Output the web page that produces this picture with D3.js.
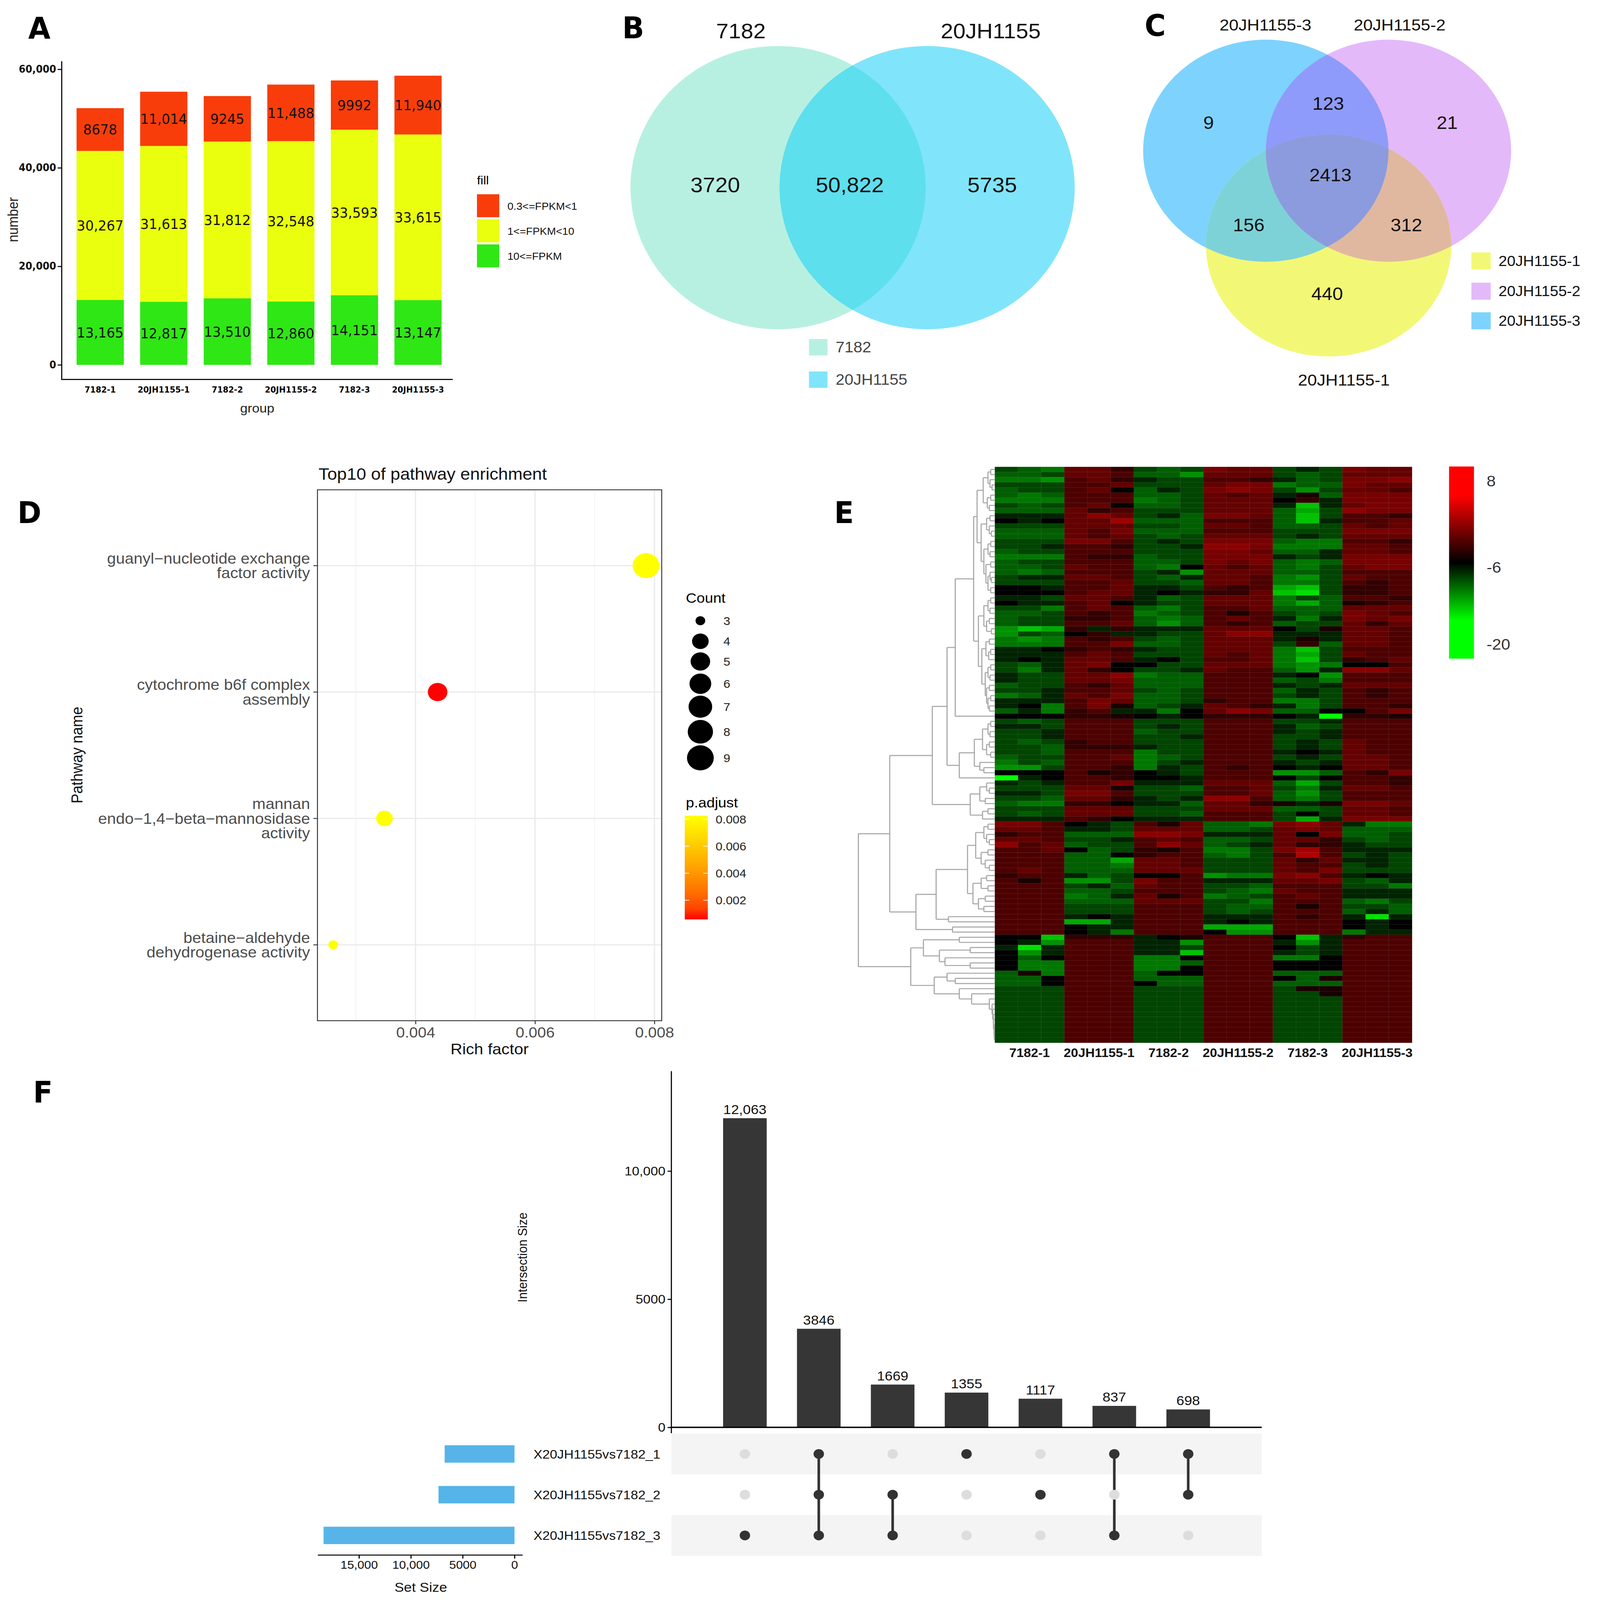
<!DOCTYPE html>
<html><head><meta charset="utf-8">
<script src="https://cdn.jsdelivr.net/npm/d3@7"></script>
<style>html,body{margin:0;padding:0;background:#fff;overflow:hidden}#fig{display:block;width:100vw;height:100vh}</style>
</head><body>
<svg id="fig" viewBox="0 0 4304 4596" preserveAspectRatio="none" xmlns="http://www.w3.org/2000/svg"></svg>
<script>
// ====================== DATA ======================
// Panel A
const groupsA = ["7182-1","20JH1155-1","7182-2","20JH1155-2","7182-3","20JH1155-3"];
const fpkmHigh = [13165,12817,13510,12860,14151,13147];   // 10<=FPKM
const fpkmMid  = [30267,31613,31812,32548,33593,33615];   // 1<=FPKM<10
const fpkmLow  = [8678,11014,9245,11488,9992,11940];      // 0.3<=FPKM<1
const fpkmClasses = ["0.3<=FPKM<1","1<=FPKM<10","10<=FPKM"];
const yTicksA = [0,20000,40000,60000];

// Panel B
const vennBSets = ["7182","20JH1155"];
const vennBCounts = [3720, 50822, 5735];        // 7182 only, both, 20JH1155 only

// Panel C
const vennCSets = ["20JH1155-1","20JH1155-2","20JH1155-3"];
const vennCRegions = ["3","2","1","2&3","1&3","1&2","1&2&3"];
const vennCCounts = [9, 21, 440, 123, 156, 312, 2413];

// Panel D
const pathwayLines = [
  ["guanyl\u2212nucleotide exchange","factor activity"],
  ["cytochrome b6f complex","assembly"],
  ["mannan","endo\u22121,4\u2212beta\u2212mannosidase","activity"],
  ["betaine\u2212aldehyde","dehydrogenase activity"]
];
const richFactor = [0.00786, 0.00437, 0.00348, 0.00262];
const geneCount  = [9, 5, 4, 3];
const pAdjust    = [0.00826, 0.00058, 0.00826, 0.00826];
const richTicks  = [0.004, 0.006, 0.008];
const richMinorTicks = [0.003, 0.005, 0.007];
const countLegend = [3,4,5,6,7,8,9];
const pLegendTicks = [0.002,0.004,0.006,0.008];

// Panel E (heatmap; one char per cell, decoded through heatCodeValues)
const heatSamples = ["7182-1","20JH1155-1","7182-2","20JH1155-2","7182-3","20JH1155-3"];
const heatCodeValues = {"9":-20,"8":-18.4,"7":-16.7,"6":-15.3,"5":-14,"4":-12.6,"3":-11.2,"2":-9.8,"1":-7.9,"0":-6,
  "a":-4.6,"b":-3.25,"c":-1.8,"d":-0.5,"e":0.6,"f":1.7,"g":2.8,"h":3.9};
const heatRows = [
"234ddb232edd212edd","332ddc335ddd232ddd","445cdb122ccb132eef","222ccd222dee433edd","322cd0312efe252ddc",
"343ccc332dcd1a3eee","444ccc432ddd0b1eee","232cd0332ddd171dee","333dbc222ddd362fee","111dfd213eed372ccb",
"010ddg333ccc371ccd","222ddd223ddc332dcd","333dce333ccc222eee","333dcd232ddd212ddd","222eec212eee344ccb",
"221ccb221ffe444ddc","322ccc222eed331ddc","444cbb322eee121eee","322ccc332ede343eee","332dcc340dcd342dee",
"343ccc215ddd332ccc","211ddc231ddc452dcc","222ccd223ddc442cbc","001ccd112cbc672bbc","000cdd101bbd782bbc",
"112ddc132ddd423ccb","011cd0122ddd463abc","224cdc342ccd333ddd","332cbc432cac232edc","322bbc343cdc141ede",
"322ccd353cbc322dbd","576b1b111ddd02addc","5230b1122dff111ddc","454cbc232ddd1a1ddc","444cce332ddd2b3ddc",
"110bcb122ddd472ccc","111cdc222dcd462dcc","101ddc102ccd472bcd","231de0022ddd45400c","241db0221dcc351ffd",
"122ddf433ccc105ccc","122dde333ccc324ccc","322cbd333ccc121ddd","221ccd232ccc312cbc","431dce332ccc212cbc",
"111ced332bcc442ccc","104cea321dcb142ccb","314bc1140dfe3300ce","000bba010bbb019bba","232ccc222ccc221ccc",
"112ccc212ccc132ccc","221ccc322ccc121ccc","221ccc221ccc221ccc","232bcc222ccc212dcc","223bbb122ccc212dcc",
"223ccc422ccc101dcc","322ccd432ccc212ddc","423ccc421ccc121ddc","552ccb412cbc010ddc","000cab012ccc553cbe",
"910ccb001ccc020ccb","121cce111ddd362ccb","222dda223ccd241ddc","112eec222ccd352ccc","223ddb121ffc342ccc",
"344bb0113ddba1aeed","222ddd222ddd332ddc","232ddd223ccc202ddc","111cb0111ccc261eee","eec012cad334efd144",
"ddc112ddd332ded333","bcc333ffe111d0e332","ddc221cdc332ddb232","fcd322cfd321dbb122","ccd032bac442egc111",
"ccc330bcc342chc212","ccc336ddc222dbd112","ccc334ddc222dcc212","cdc333ddd222dce222","bcc13200c544efc101",
"cac552ecc111dde231","ccc213dcc223ccc224","ccc332ccc234dcc111","ccc431dac432cdc111","ccc333ddd224ccc342",
"ccc222ccc233cac223","ccc222ccc232ccc313","ccc101ccc111cbc181","ccc661ccc101ccc010","ccc011ccc666ccc010",
"ccc014ccc055ccc411","007bbb10accc071bcc","015ccc115ccc151ccc","181ccc112ccc021ccc","051ccc117ccc121ccc",
"030ccc440ccc440ccc","044ccc443ccc000ccc","044ccc440ccc000ccc","3a4ccc300ccc333ccc","330ccc333ccc03accc",
"330ccc033ccc333ccc","222ccc222ccc2aaccc","222ccc222ccc22accc","222ccc222ccc222ccc","222ccc222ccc222ccc",
"222ccc222ccc222ccc","222ccc222ccc222ccc","222ccc222ccc222ccc","222ccc222ccc222ccc","222ccc222ccc222ccc",
"222ccc222ccc222ccc","222ccc222ccc222ccc"
];
const heatLegendTicks = [8,-6,-20];
// row dendrogram: [height, child, child], leaves = row index
const dendroTree =
[1.0,
  [0.77,
    [0.458,
      [0.35,
        [0.29,
          [0.155,
            [0.13,
              [0.085,[0.05,[0.03,0,1],[0.035,2,[0.02,3,4]]],[0.055,[0.03,5,6],[0.04,7,8]]],
              [0.10,[0.06,[0.035,9,10],[0.04,11,[0.025,12,13]]],[0.08,[0.05,[0.03,14,15],[0.035,16,17]],[0.065,[0.03,18,19],[0.05,[0.035,20,[0.025,21,22]],[0.03,23,24]]]]]],
            [0.12,
              [0.08,[0.05,[0.03,25,26],[0.035,27,28]],[0.06,[0.04,29,30],[0.025,31,32]]],
              [0.095,[0.065,[0.04,33,34],[0.045,[0.03,35,36],37]],[0.07,[0.05,[0.03,38,39],[0.035,40,41]],[0.06,[0.04,42,43],[0.05,[0.03,44,45],[0.04,46,47]]]]]]],
          48],
        [0.26,[0.15,[0.09,[0.05,[0.03,49,50],[0.035,51,52]],[0.06,[0.04,53,54],[0.03,55,56]]],[0.11,57,[0.08,58,59]]],60]],
      [0.18,[0.11,[0.06,61,[0.04,62,63]],[0.07,64,65]],[0.09,[0.05,66,67],68]]],
    [0.578,
      [0.43,
        [0.2,[0.14,[0.08,[0.05,69,70],[0.06,71,[0.04,72,73]]],[0.1,[0.05,74,75],[0.07,76,[0.04,77,78]]]],
             [0.16,[0.1,[0.06,79,80],[0.05,81,82]],[0.12,[0.07,83,84],[0.08,85,86]]]],
        [0.34,87,88]],
      [0.31,89,90]]],
  [0.616,
    [0.523,[0.26,91,92],[0.406,[0.18,93,94],[0.365,95,[0.18,96,97]]]],
    [0.444,[0.35,98,[0.29,99,100]],[0.26,101,[0.17,102,[0.04,103,[0.02,104,[0.015,105,[0.01,106,[0.01,107,[0.005,108,[0.005,109,[0.003,110,111]]]]]]]]]]]]];

// Panel F
const upsetSets = ["X20JH1155vs7182_1","X20JH1155vs7182_2","X20JH1155vs7182_3"];
const upsetCounts = [12063,3846,1669,1355,1117,837,698];
const upsetMembership = [[2],[0,1,2],[1,2],[0],[1],[0,2],[0,1]];
const upsetTicks = [0,5000,10000];
const setSizeTicks = [0,5000,10000,15000];

// ====================== DRAWING ======================
const NARROW = "'Liberation Sans Narrow','Arial Narrow','DejaVu Sans Condensed',sans-serif";
const SANS = "'Liberation Sans',Arial,Helvetica,sans-serif";
const fmtNum = v => v >= 10000 ? d3.format(",")(v) : String(v);

const svg = d3.select("#fig");
svg.append("rect").attr("width",4304).attr("height",4596).attr("fill","#fff");
const defs = svg.append("defs");

function letter(t, x, y){
  svg.append("text").attr("x",x).attr("y",y).text(t)
    .style("font-family",NARROW).style("font-weight","bold").style("font-size","86px").attr("fill","#000");
}
letter("A",76,111); letter("B",1674,110); letter("C",3079,103);
letter("D",47,1503); letter("E",2244,1503); letter("F",89,3168);

// ---------- Panel A ----------
(function(){
  const g = svg.append("g");
  const x = d3.scaleBand().domain(groupsA).range([167,1227]).paddingInner(0.257).paddingOuter(0.228);
  const y = d3.scaleLinear().domain([0,60000]).range([1048,199]);
  const fill = {low:"#F83D0A", mid:"#E9FF0D", high:"#2FE714"};
  const rows = groupsA.map((grp,i)=>({grp, high:fpkmHigh[i], mid:fpkmMid[i], low:fpkmLow[i]}));
  const series = d3.stack().keys(["high","mid","low"])(rows);
  series.forEach(layer=>{
    g.selectAll(null).data(layer).join("rect")
      .attr("x",d=>x(d.data.grp)).attr("width",x.bandwidth())
      .attr("y",d=>y(d[1])).attr("height",d=>y(d[0])-y(d[1]))
      .attr("fill",fill[layer.key]);
    g.selectAll(null).data(layer).join("text")
      .attr("x",d=>x(d.data.grp)+x.bandwidth()/2).attr("y",d=>y((d[0]+d[1])/2))
      .attr("dy","0.36em").attr("text-anchor","middle")
      .style("font-family",NARROW).style("font-size","40px").attr("fill","#111")
      .text(d=>fmtNum(d[1]-d[0]));
  });
  const ax = g.append("g").attr("transform","translate(166,0)")
    .call(d3.axisLeft(y).tickValues(yTicksA).tickFormat(fmtNum).tickSize(11).tickPadding(4));
  ax.select(".domain").remove();
  ax.selectAll("line").attr("stroke","#000").attr("stroke-width",3);
  ax.selectAll("text").style("font-family",NARROW).style("font-weight","bold").style("font-size","29px").attr("fill","#111");
  g.append("line").attr("x1",166).attr("x2",166).attr("y1",176).attr("y2",1091).attr("stroke","#000").attr("stroke-width",3);
  g.append("line").attr("x1",165).attr("x2",1218).attr("y1",1090).attr("y2",1090).attr("stroke","#000").attr("stroke-width",3);
  g.selectAll(null).data(groupsA).join("text")
    .attr("x",d=>x(d)+x.bandwidth()/2).attr("y",1128).attr("text-anchor","middle")
    .style("font-family",NARROW).style("font-weight","bold").style("font-size","24px").text(d=>d);
  g.append("text").attr("x",692).attr("y",1185).attr("text-anchor","middle")
    .style("font-family",SANS).style("font-size","36px").attr("fill","#222").text("group");
  g.append("text").attr("transform","translate(48,631) rotate(-90)").attr("text-anchor","middle")
    .style("font-family",SANS).style("font-size","38px").attr("fill","#222").text("number");
  g.append("text").attr("x",1283).attr("y",530).style("font-family",SANS).style("font-size","34px").text("fill");
  const legKeys = ["low","mid","high"];
  legKeys.forEach((k,i)=>{
    g.append("rect").attr("x",1283).attr("y",558+i*72).attr("width",60).attr("height",66).attr("fill",fill[k]);
    g.append("text").attr("x",1365).attr("y",602+i*72).style("font-family",SANS).style("font-size","29px")
      .attr("fill","#111").text(fpkmClasses[i]);
  });
})();

// ---------- Panel B ----------
(function(){
  const g = svg.append("g");
  const L = {cx:2093, cy:539, rx:397, ry:407}, R = {cx:2494, cy:539, rx:397, ry:407};
  defs.append("clipPath").attr("id","clipBR").append("ellipse")
    .attr("cx",R.cx).attr("cy",R.cy).attr("rx",R.rx).attr("ry",R.ry);
  const ell = (e,c)=>g.append("ellipse").attr("cx",e.cx).attr("cy",e.cy).attr("rx",e.rx).attr("ry",e.ry).attr("fill",c);
  ell(L,"#B7F0E1"); ell(R,"#80E5FA");
  ell(L,"#5DDFED").attr("clip-path","url(#clipBR)");
  const pos = [[1924,552],[2286,552],[2669,552]];
  vennBCounts.forEach((v,i)=>g.append("text").attr("x",pos[i][0]).attr("y",pos[i][1]).attr("text-anchor","middle")
    .style("font-family",SANS).style("font-size","60px").attr("fill","#111").text(fmtNum(v)));
  const tx = [1993, 2665];
  vennBSets.forEach((s,i)=>g.append("text").attr("x",tx[i]).attr("y",110).attr("text-anchor","middle")
    .style("font-family",SANS).style("font-size","60px").attr("fill","#111").text(s));
  const colors = ["#B7F0E1","#80E5FA"];
  vennBSets.forEach((s,i)=>{
    g.append("rect").attr("x",2176).attr("y",974+i*93).attr("width",50).attr("height",47).attr("fill",colors[i]);
    g.append("text").attr("x",2248).attr("y",1012+i*93).style("font-family",SANS).style("font-size","43px")
      .attr("fill","#444").text(s);
  });
})();

// ---------- Panel C ----------
(function(){
  const g = svg.append("g");
  const E = {"3":{cx:3405,cy:433}, "2":{cx:3735,cy:433}, "1":{cx:3574,cy:705}};
  const rx = 330, ry = 319;
  ["1","2","3"].forEach(k=>defs.append("clipPath").attr("id","clipC"+k).append("ellipse")
    .attr("cx",E[k].cx).attr("cy",E[k].cy).attr("rx",rx).attr("ry",ry));
  const ell = (k,c,par)=>(par||g).append("ellipse").attr("cx",E[k].cx).attr("cy",E[k].cy).attr("rx",rx).attr("ry",ry).attr("fill",c);
  ell("3","#7DD3FD"); ell("2","#E4B9FA"); ell("1","#F2F876");
  ell("3","#8E9BFA").attr("clip-path","url(#clipC2)");
  ell("3","#7DD2D7").attr("clip-path","url(#clipC1)");
  ell("2","#E0B8A0").attr("clip-path","url(#clipC1)");
  const g3 = g.append("g").attr("clip-path","url(#clipC1)");
  ell("3","#8C9BDE",g3).attr("clip-path","url(#clipC2)");
  const pos = {"3":[3251,352],"2":[3893,352],"1":[3570,844],"2&3":[3573,297],"1&3":[3359,646],"1&2":[3783,646],"1&2&3":[3579,503]};
  vennCRegions.forEach((r,i)=>g.append("text").attr("x",pos[r][0]).attr("y",pos[r][1]+18).attr("text-anchor","middle")
    .style("font-family",SANS).style("font-size","51px").attr("fill","#111").text(fmtNum(vennCCounts[i])));
  const tpos = [[3615,1107],[3765,87],[3404,87]];
  vennCSets.forEach((s,i)=>g.append("text").attr("x",tpos[i][0]).attr("y",tpos[i][1]).attr("text-anchor","middle")
    .style("font-family",SANS).style("font-size","46px").attr("fill","#111").text(s));
  const lc = ["#F2F876","#E4B9FA","#7DD3FD"];
  const ly = [725,812,897];
  vennCSets.forEach((s,i)=>{
    g.append("rect").attr("x",3958).attr("y",ly[i]).attr("width",52).attr("height",49).attr("fill",lc[i]);
    g.append("text").attr("x",4031).attr("y",ly[i]+39).style("font-family",SANS).style("font-size","41px")
      .attr("fill","#111").text(s);
  });
})();

// ---------- Panel D ----------
(function(){
  const g = svg.append("g");
  const ext = d3.extent(richFactor), pad = (ext[1]-ext[0])*0.05;
  const x = d3.scaleLinear().domain([ext[0]-pad, ext[1]+pad]).range([854,1780]);
  const cats = pathwayLines.map(l=>l.join(" "));
  const y = d3.scalePoint().domain(cats).range([1407,2932]).padding(0.6);
  const cext = d3.extent(countLegend);
  const rScale = d3.scaleLinear().domain([0,1]).range([13,36]);
  const r = c => rScale(Math.sqrt((c-cext[0])/(cext[1]-cext[0])));
  const pext = d3.extent(pAdjust);
  const col = d3.scaleLinear().domain(pext).range(["#FF0000","#FFFF00"]).interpolate(d3.interpolateLab);
  richMinorTicks.forEach(t=>g.append("line").attr("x1",x(t)).attr("x2",x(t)).attr("y1",1407).attr("y2",2932)
    .attr("stroke","#F2F2F2").attr("stroke-width",2));
  richTicks.forEach(t=>g.append("line").attr("x1",x(t)).attr("x2",x(t)).attr("y1",1407).attr("y2",2932)
    .attr("stroke","#EBEBEB").attr("stroke-width",3.5));
  cats.forEach(c=>g.append("line").attr("x1",854).attr("x2",1780).attr("y1",y(c)).attr("y2",y(c))
    .attr("stroke","#EBEBEB").attr("stroke-width",3.5));
  g.append("rect").attr("x",854).attr("y",1407).attr("width",926).attr("height",1525)
    .attr("fill","none").attr("stroke","#333").attr("stroke-width",2.5);
  cats.forEach((c,i)=>g.append("circle").attr("cx",x(richFactor[i])).attr("cy",y(c)).attr("r",r(geneCount[i]))
    .attr("fill",col(pAdjust[i])));
  const ax = g.append("g").attr("transform","translate(0,2932)")
    .call(d3.axisBottom(x).tickValues(richTicks).tickFormat(d3.format(".3f")).tickSize(10).tickPadding(8));
  ax.select(".domain").remove();
  ax.selectAll("line").attr("stroke","#333").attr("stroke-width",2.5);
  ax.selectAll("text").style("font-family",SANS).style("font-size","42px").attr("fill","#4D4D4D");
  cats.forEach((c,i)=>{
    g.append("line").attr("x1",843).attr("x2",854).attr("y1",y(c)).attr("y2",y(c)).attr("stroke","#333").attr("stroke-width",2.5);
    const lines = pathwayLines[i], n = lines.length;
    lines.forEach((t,j)=>g.append("text").attr("x",834).attr("y",y(c)+(j-(n-1)/2)*42+15).attr("text-anchor","end")
      .style("font-family",SANS).style("font-size","43px").attr("fill","#4D4D4D").text(t));
  });
  g.append("text").attr("x",1317).attr("y",3029).attr("text-anchor","middle")
    .style("font-family",SANS).style("font-size","44px").attr("fill","#111").text("Rich factor");
  g.append("text").attr("transform","translate(222,2169) rotate(-90)").attr("text-anchor","middle")
    .style("font-family",SANS).style("font-size","42px").attr("fill","#111").text("Pathway name");
  g.append("text").attr("x",857).attr("y",1378)
    .style("font-family",SANS).style("font-size","47px").attr("fill","#111").text("Top10 of pathway enrichment");
  g.append("text").attr("x",1845).attr("y",1731).style("font-family",SANS).style("font-size","40px").text("Count");
  const ly = [1783,1842,1900,1964,2030,2102,2177];
  countLegend.forEach((c,i)=>{
    g.append("circle").attr("cx",1884).attr("cy",ly[i]).attr("r",r(c)).attr("fill","#000");
    g.append("text").attr("x",1946).attr("y",ly[i]).attr("dy","0.36em").style("font-family",SANS)
      .style("font-size","33px").attr("fill","#222").text(c);
  });
  g.append("text").attr("x",1845).attr("y",2319).style("font-family",SANS).style("font-size","40px").text("p.adjust");
  const cy = d3.scaleLinear().domain(pext).range([2641,2343]);
  const grad = defs.append("linearGradient").attr("id","pgrad").attr("x1",0).attr("y1",1).attr("x2",0).attr("y2",0);
  d3.range(0,1.0001,0.1).forEach(t=>grad.append("stop").attr("offset",t)
    .attr("stop-color",col(pext[0]+t*(pext[1]-pext[0]))));
  g.append("rect").attr("x",1842).attr("y",2343).attr("width",62).attr("height",298).attr("fill","url(#pgrad)");
  pLegendTicks.forEach(t=>{
    g.append("line").attr("x1",1842).attr("x2",1854).attr("y1",cy(t)).attr("y2",cy(t)).attr("stroke","#fff").attr("stroke-width",2);
    g.append("line").attr("x1",1892).attr("x2",1904).attr("y1",cy(t)).attr("y2",cy(t)).attr("stroke","#fff").attr("stroke-width",2);
    g.append("text").attr("x",1925).attr("y",cy(t)).attr("dy","0.36em").style("font-family",SANS)
      .style("font-size","33px").attr("fill","#222").text(d3.format(".3f")(t));
  });
})();

// ---------- Panel E ----------
(function(){
  const g = svg.append("g");
  const heatValues = heatRows.map(r=>Array.from(r, ch=>heatCodeValues[ch]));
  const nCol = heatValues[0].length;
  const x = d3.scaleBand().domain(d3.range(nCol)).range([2676,3798]);
  const y = d3.scaleBand().domain(d3.range(heatValues.length)).range([1341,2995]);
  const col = d3.scaleLinear().domain([-20,-6,8]).range(["#00ff00","#000000","#ff0000"]).clamp(true);
  heatValues.forEach((row,i)=>{
    g.selectAll(null).data(row).join("rect")
      .attr("x",(d,j)=>x(j)).attr("y",y(i)).attr("width",x.bandwidth()+0.6).attr("height",y.bandwidth()+0.6)
      .attr("fill",d=>col(d)).attr("stroke","#9a9a9a").attr("stroke-opacity",0.16).attr("stroke-width",1.2);
  });
  const reps = nCol/heatSamples.length;
  heatSamples.forEach((s,k)=>g.append("text")
    .attr("x",(x(k*reps)+x(k*reps+reps-1)+x.bandwidth())/2).attr("y",3036).attr("text-anchor","middle")
    .style("font-family",SANS).style("font-weight","bold").style("font-size","35px").attr("fill","#111").text(s));
  const dx = d3.scaleLinear().domain([0,1]).range([2676,2309]);
  const dg = g.append("g").attr("stroke","#A8A8A8").attr("stroke-width",3).attr("fill","none");
  function draw(node){
    if (typeof node === "number") return {y:y(node)+y.bandwidth()/2, h:0};
    const h = node[0];
    const kids = node.slice(1).map(draw);
    const y0 = kids[0].y, y1 = kids[kids.length-1].y;
    dg.append("line").attr("x1",dx(h)).attr("x2",dx(h)).attr("y1",y0).attr("y2",y1);
    kids.forEach(k=>dg.append("line").attr("x1",dx(h)).attr("x2",dx(k.h)).attr("y1",k.y).attr("y2",k.y));
    return {y:(y0+y1)/2, h};
  }
  draw(dendroTree);
  const grad = defs.append("linearGradient").attr("id","hgrad").attr("x1",0).attr("y1",0).attr("x2",0).attr("y2",1);
  [[0,"#ff0000"],[0.15,"#ff0000"],[0.5,"#000000"],[0.8,"#00ff00"],[1,"#00ff00"]]
    .forEach(s=>grad.append("stop").attr("offset",s[0]).attr("stop-color",s[1]));
  g.append("rect").attr("x",3898).attr("y",1340).attr("width",67).attr("height",552).attr("fill","url(#hgrad)");
  const ly = d3.scaleLinear().domain([8,-20]).range([1381,1850]);
  heatLegendTicks.forEach(t=>g.append("text").attr("x",3999).attr("y",t===-6?1629:ly(t)).attr("dy","0.36em")
    .style("font-family",SANS).style("font-size","44px").attr("fill","#333").text(t));
})();

// ---------- Panel F ----------
(function(){
  const g = svg.append("g");
  const x = d3.scaleBand().domain(d3.range(upsetCounts.length)).range([1806,3394]).paddingInner(0.41).paddingOuter(0.7);
  const y = d3.scaleLinear().domain([0, d3.max(upsetCounts)*1.152]).range([4100,3077]);
  g.selectAll(null).data(upsetCounts).join("rect")
    .attr("x",(d,i)=>x(i)).attr("width",x.bandwidth()).attr("y",d=>y(d)).attr("height",d=>4100-y(d)).attr("fill","#363636");
  g.selectAll(null).data(upsetCounts).join("text")
    .attr("x",(d,i)=>x(i)+x.bandwidth()/2).attr("y",d=>y(d)-12).attr("text-anchor","middle")
    .style("font-family",SANS).style("font-size","38px").attr("fill","#111").text(d=>fmtNum(d));
  const ax = g.append("g").attr("transform","translate(1806,0)")
    .call(d3.axisLeft(y).tickValues(upsetTicks).tickFormat(fmtNum).tickSize(10).tickPadding(6));
  ax.select(".domain").remove();
  ax.selectAll("line").attr("stroke","#000").attr("stroke-width",3);
  ax.selectAll("text").style("font-family",SANS).style("font-size","36px").attr("fill","#111");
  g.append("line").attr("x1",1806).attr("x2",1806).attr("y1",3077).attr("y2",4117).attr("stroke","#000").attr("stroke-width",3);
  g.append("text").attr("transform","translate(1418,3612) rotate(-90)").attr("text-anchor","middle")
    .style("font-family",SANS).style("font-size","35px").attr("fill","#111").text("Intersection Size");
  const ym = d3.scaleBand().domain(upsetSets).range([4118,4469]);
  upsetSets.forEach((s,i)=>{ if(i%2===0) g.append("rect").attr("x",1806).attr("y",ym(s)).attr("width",1588)
    .attr("height",ym.bandwidth()).attr("fill","#F4F4F4"); });
  g.append("line").attr("x1",1804).attr("x2",3394).attr("y1",4100).attr("y2",4100).attr("stroke","#000").attr("stroke-width",4);
  upsetCounts.forEach((c,j)=>{
    const cx = x(j)+x.bandwidth()/2;
    const mem = upsetMembership[j];
    if (mem.length>1){
      const ys = mem.map(i=>ym(upsetSets[i])+ym.bandwidth()/2);
      g.append("line").attr("x1",cx).attr("x2",cx).attr("y1",d3.min(ys)).attr("y2",d3.max(ys))
        .attr("stroke","#333").attr("stroke-width",7);
    }
    upsetSets.forEach((s,i)=>g.append("circle").attr("cx",cx).attr("cy",ym(s)+ym.bandwidth()/2).attr("r",14)
      .attr("fill",mem.includes(i)?"#333":"#DDDDDD"));
  });
  const setSizes = upsetSets.map((s,i)=>d3.sum(upsetCounts.filter((c,j)=>upsetMembership[j].includes(i))));
  const xs = d3.scaleLinear().domain([0, d3.max(setSizes)*1.03]).range([1384,855]);
  upsetSets.forEach((s,i)=>{
    g.append("rect").attr("x",xs(setSizes[i])).attr("width",1384-xs(setSizes[i]))
      .attr("y",ym(s)+ym.bandwidth()/2-25).attr("height",50).attr("fill","#56B4E9");
    g.append("text").attr("x",1435).attr("y",ym(s)+ym.bandwidth()/2).attr("dy","0.36em")
      .style("font-family",SANS).style("font-size","36px").attr("fill","#111").text(s);
  });
  const sx = g.append("g").attr("transform","translate(0,4467)")
    .call(d3.axisBottom(xs).tickValues(setSizeTicks).tickFormat(fmtNum).tickSize(10).tickPadding(6));
  sx.select(".domain").remove();
  sx.selectAll("line").attr("stroke","#000").attr("stroke-width",3);
  sx.selectAll("text").style("font-family",SANS).style("font-size","33px").attr("fill","#111");
  g.append("line").attr("x1",855).attr("x2",1406).attr("y1",4467).attr("y2",4467).attr("stroke","#000").attr("stroke-width",3);
  g.append("text").attr("x",1132).attr("y",4573).attr("text-anchor","middle")
    .style("font-family",SANS).style("font-size","38px").attr("fill","#111").text("Set Size");
})();
</script>
</body></html>
